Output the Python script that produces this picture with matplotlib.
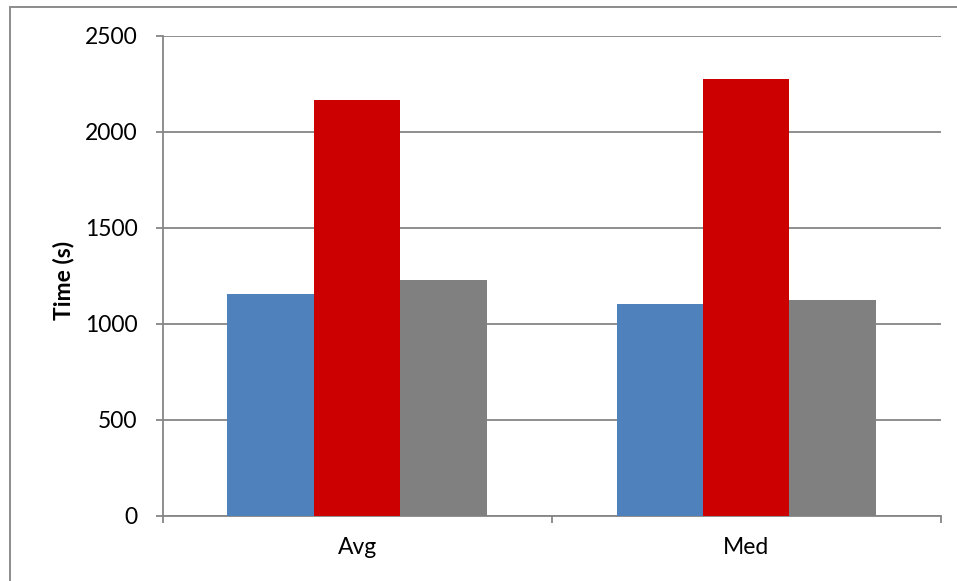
import numpy as np
import matplotlib
matplotlib.use('Agg')
import matplotlib.pyplot as plt
from matplotlib.patches import Rectangle

categories = ['Avg', 'Med']
series_blue = [1156, 1101]
series_red = [2165, 2276]
series_gray = [1226, 1125]
y_ticks = [0, 500, 1000, 1500, 2000, 2500]

W, H = 957, 581
plt.rcParams['font.family'] = ['Lato', 'DejaVu Sans']
FS = 16.5

fig = plt.figure(figsize=(W / 100, H / 100), dpi=100)
ax = fig.add_axes([162.5 / W, 1 - 515.7 / H, (940.8 - 162.5) / W, (515.7 - 35.7) / H])

# chart area border (only top/left visible in the original crop)
fig.patches.append(Rectangle((9.5 / W, -0.1), 1.2, 1 - 6.5 / H + 0.1,
                             transform=fig.transFigure, fill=False,
                             edgecolor='#8c8c8c', linewidth=1.4, zorder=0))

x = np.arange(len(categories))
w = 1 / 4.5  # gap width 150%
ax.bar(x - w, series_blue, w, color='#4f81bd', zorder=3)
ax.bar(x, series_red, w, color='#cc0000', zorder=3)
ax.bar(x + w, series_gray, w, color='#808080', zorder=3)

ax.set_xlim(-0.5, len(categories) - 0.5)
ax.set_ylim(0, 2500)
ax.set_yticks(y_ticks)
ax.set_yticklabels([str(v) for v in y_ticks], fontsize=FS)
ax.yaxis.grid(True, color='#868686', linewidth=1.3, zorder=0)

# category labels between boundary ticks
ax.set_xticks(x)
ax.set_xticklabels(categories, fontsize=FS)
ax.tick_params(axis='x', length=0, pad=15)
ax.set_xticks(np.arange(-0.5, len(categories)), minor=True)
ax.tick_params(axis='x', which='minor', length=5.2, width=1.3, color='#868686', direction='out')
ax.tick_params(axis='y', length=5.4, width=1.3, color='#868686', direction='out', pad=12.5)

for side in ['top', 'right']:
    ax.spines[side].set_visible(False)
for side in ['left', 'bottom']:
    ax.spines[side].set_color('#868686')
    ax.spines[side].set_linewidth(1.3)

fig.text(63 / W, 1 - 280 / H, 'Time (s)', rotation=90, ha='center', va='center',
         fontsize=FS, fontweight='bold')

fig.savefig('out.png', dpi=100)
